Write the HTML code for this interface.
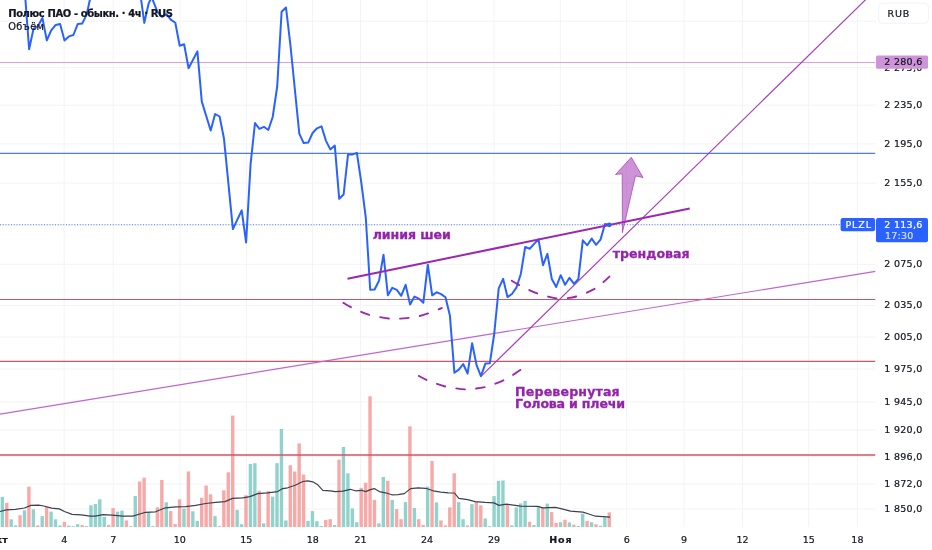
<!DOCTYPE html>
<html lang="ru"><head><meta charset="utf-8"><title>Полюс ПАО - обыкн. · 4ч · RUS</title>
<style>
html,body{margin:0;padding:0;background:#fff;}
body{width:932px;height:550px;overflow:hidden;}
svg{display:block;}
text{font-family:"DejaVu Sans","Liberation Sans",sans-serif;}
.ax{font-size:9.5px;fill:#131722;stroke:#131722;stroke-width:0.22px;}
.b{font-weight:bold;}
.an{font-size:12.6px;font-weight:bold;fill:#9423ab;stroke:#9423ab;stroke-width:0.3px;}
</style></head><body>
<svg width="932" height="550" viewBox="0 0 932 550">
<rect width="932" height="550" fill="#fff"/>
<defs><clipPath id="pane"><rect x="0" y="0" width="875.5" height="527"/></clipPath></defs>

<g stroke="#f3f3f6" stroke-width="1">
<line x1="64.2" y1="0" x2="64.2" y2="527"/>
<line x1="113.2" y1="0" x2="113.2" y2="527"/>
<line x1="180.0" y1="0" x2="180.0" y2="527"/>
<line x1="246.4" y1="0" x2="246.4" y2="527"/>
<line x1="312.6" y1="0" x2="312.6" y2="527"/>
<line x1="360.5" y1="0" x2="360.5" y2="527"/>
<line x1="427.0" y1="0" x2="427.0" y2="527"/>
<line x1="494.0" y1="0" x2="494.0" y2="527"/>
<line x1="560.3" y1="0" x2="560.3" y2="527"/>
<line x1="626.7" y1="0" x2="626.7" y2="527"/>
<line x1="684.1" y1="0" x2="684.1" y2="527"/>
<line x1="742.5" y1="0" x2="742.5" y2="527"/>
<line x1="808.7" y1="0" x2="808.7" y2="527"/>
<line x1="857.4" y1="0" x2="857.4" y2="527"/>
<line x1="0" y1="21.2" x2="875.5" y2="21.2"/>
<line x1="0" y1="67.6" x2="875.5" y2="67.6"/>
<line x1="0" y1="105.2" x2="875.5" y2="105.2"/>
<line x1="0" y1="143.9" x2="875.5" y2="143.9"/>
<line x1="0" y1="183.1" x2="875.5" y2="183.1"/>
<line x1="0" y1="224.8" x2="875.5" y2="224.8"/>
<line x1="0" y1="264.3" x2="875.5" y2="264.3"/>
<line x1="0" y1="305.4" x2="875.5" y2="305.4"/>
<line x1="0" y1="337.0" x2="875.5" y2="337.0"/>
<line x1="0" y1="369.0" x2="875.5" y2="369.0"/>
<line x1="0" y1="402.0" x2="875.5" y2="402.0"/>
<line x1="0" y1="430.0" x2="875.5" y2="430.0"/>
<line x1="0" y1="456.7" x2="875.5" y2="456.7"/>
<line x1="0" y1="484.0" x2="875.5" y2="484.0"/>
<line x1="0" y1="509.0" x2="875.5" y2="509.0"/>
</g>
<g clip-path="url(#pane)">
<g>
<rect x="0.65" y="496.8" width="3.4" height="30.2" fill="#92d2cc"/>
<rect x="5.08" y="502.8" width="3.4" height="24.2" fill="#f7a9a7"/>
<rect x="9.51" y="519.3" width="3.4" height="7.7" fill="#92d2cc"/>
<rect x="13.94" y="525.4" width="3.4" height="1.6" fill="#92d2cc"/>
<rect x="18.37" y="515.3" width="3.4" height="11.7" fill="#f7a9a7"/>
<rect x="22.80" y="510.3" width="3.4" height="16.7" fill="#92d2cc"/>
<rect x="27.23" y="486.7" width="3.4" height="40.3" fill="#f7a9a7"/>
<rect x="31.66" y="509.3" width="3.4" height="17.7" fill="#92d2cc"/>
<rect x="36.09" y="525.4" width="3.4" height="1.6" fill="#f7a9a7"/>
<rect x="40.52" y="516.1" width="3.4" height="10.9" fill="#92d2cc"/>
<rect x="44.95" y="506.8" width="3.4" height="20.2" fill="#f7a9a7"/>
<rect x="49.38" y="511.6" width="3.4" height="15.4" fill="#92d2cc"/>
<rect x="53.81" y="519.3" width="3.4" height="7.7" fill="#92d2cc"/>
<rect x="58.24" y="525.4" width="3.4" height="1.6" fill="#92d2cc"/>
<rect x="62.67" y="521.9" width="3.4" height="5.1" fill="#f7a9a7"/>
<rect x="67.10" y="525.6" width="3.4" height="1.4" fill="#92d2cc"/>
<rect x="71.53" y="526.2" width="3.4" height="0.8" fill="#92d2cc"/>
<rect x="75.96" y="524.1" width="3.4" height="2.9" fill="#92d2cc"/>
<rect x="80.39" y="525.1" width="3.4" height="1.9" fill="#f7a9a7"/>
<rect x="84.82" y="526.1" width="3.4" height="0.9" fill="#92d2cc"/>
<rect x="89.25" y="505.3" width="3.4" height="21.7" fill="#92d2cc"/>
<rect x="93.68" y="504.0" width="3.4" height="23.0" fill="#92d2cc"/>
<rect x="98.11" y="499.3" width="3.4" height="27.7" fill="#92d2cc"/>
<rect x="102.54" y="516.8" width="3.4" height="10.2" fill="#92d2cc"/>
<rect x="106.97" y="524.9" width="3.4" height="2.1" fill="#f7a9a7"/>
<rect x="111.40" y="508.1" width="3.4" height="18.9" fill="#f7a9a7"/>
<rect x="115.83" y="511.6" width="3.4" height="15.4" fill="#92d2cc"/>
<rect x="120.26" y="510.6" width="3.4" height="16.4" fill="#92d2cc"/>
<rect x="124.69" y="520.4" width="3.4" height="6.6" fill="#f7a9a7"/>
<rect x="129.12" y="526.1" width="3.4" height="0.9" fill="#92d2cc"/>
<rect x="133.55" y="496.0" width="3.4" height="31.0" fill="#92d2cc"/>
<rect x="137.98" y="481.5" width="3.4" height="45.5" fill="#f7a9a7"/>
<rect x="142.41" y="477.7" width="3.4" height="49.3" fill="#f7a9a7"/>
<rect x="146.84" y="512.3" width="3.4" height="14.7" fill="#92d2cc"/>
<rect x="151.27" y="526.1" width="3.4" height="0.9" fill="#92d2cc"/>
<rect x="155.70" y="507.3" width="3.4" height="19.7" fill="#f7a9a7"/>
<rect x="160.13" y="480.0" width="3.4" height="47.0" fill="#f7a9a7"/>
<rect x="164.56" y="502.3" width="3.4" height="24.7" fill="#92d2cc"/>
<rect x="168.99" y="511.1" width="3.4" height="15.9" fill="#f7a9a7"/>
<rect x="173.42" y="524.1" width="3.4" height="2.9" fill="#f7a9a7"/>
<rect x="177.85" y="499.3" width="3.4" height="27.7" fill="#f7a9a7"/>
<rect x="182.28" y="508.6" width="3.4" height="18.4" fill="#92d2cc"/>
<rect x="186.71" y="471.4" width="3.4" height="55.6" fill="#f7a9a7"/>
<rect x="191.14" y="511.3" width="3.4" height="15.7" fill="#92d2cc"/>
<rect x="195.57" y="520.9" width="3.4" height="6.1" fill="#92d2cc"/>
<rect x="200.00" y="497.8" width="3.4" height="29.2" fill="#f7a9a7"/>
<rect x="204.43" y="485.5" width="3.4" height="41.5" fill="#f7a9a7"/>
<rect x="208.86" y="494.3" width="3.4" height="32.7" fill="#f7a9a7"/>
<rect x="213.29" y="516.1" width="3.4" height="10.9" fill="#92d2cc"/>
<rect x="217.72" y="526.1" width="3.4" height="0.9" fill="#f7a9a7"/>
<rect x="222.15" y="490.3" width="3.4" height="36.7" fill="#f7a9a7"/>
<rect x="226.58" y="472.3" width="3.4" height="54.7" fill="#f7a9a7"/>
<rect x="231.01" y="415.6" width="3.4" height="111.4" fill="#f7a9a7"/>
<rect x="235.44" y="509.9" width="3.4" height="17.1" fill="#92d2cc"/>
<rect x="239.87" y="524.2" width="3.4" height="2.8" fill="#92d2cc"/>
<rect x="244.30" y="495.3" width="3.4" height="31.7" fill="#f7a9a7"/>
<rect x="248.73" y="464.0" width="3.4" height="63.0" fill="#92d2cc"/>
<rect x="253.16" y="463.2" width="3.4" height="63.8" fill="#92d2cc"/>
<rect x="257.59" y="490.8" width="3.4" height="36.2" fill="#f7a9a7"/>
<rect x="262.02" y="523.4" width="3.4" height="3.6" fill="#92d2cc"/>
<rect x="266.45" y="491.1" width="3.4" height="35.9" fill="#f7a9a7"/>
<rect x="270.88" y="496.6" width="3.4" height="30.4" fill="#92d2cc"/>
<rect x="275.31" y="463.2" width="3.4" height="63.8" fill="#92d2cc"/>
<rect x="279.74" y="428.9" width="3.4" height="98.1" fill="#92d2cc"/>
<rect x="284.17" y="520.4" width="3.4" height="6.6" fill="#92d2cc"/>
<rect x="288.60" y="465.2" width="3.4" height="61.8" fill="#f7a9a7"/>
<rect x="293.03" y="471.5" width="3.4" height="55.5" fill="#f7a9a7"/>
<rect x="297.46" y="443.4" width="3.4" height="83.6" fill="#f7a9a7"/>
<rect x="301.89" y="474.5" width="3.4" height="52.5" fill="#f7a9a7"/>
<rect x="306.32" y="520.9" width="3.4" height="6.1" fill="#92d2cc"/>
<rect x="310.75" y="511.1" width="3.4" height="15.9" fill="#92d2cc"/>
<rect x="315.18" y="521.2" width="3.4" height="5.8" fill="#92d2cc"/>
<rect x="319.61" y="526.0" width="3.4" height="1.0" fill="#92d2cc"/>
<rect x="324.04" y="519.9" width="3.4" height="7.1" fill="#f7a9a7"/>
<rect x="328.47" y="519.2" width="3.4" height="7.8" fill="#f7a9a7"/>
<rect x="332.90" y="525.0" width="3.4" height="2.0" fill="#92d2cc"/>
<rect x="337.33" y="459.7" width="3.4" height="67.3" fill="#f7a9a7"/>
<rect x="341.76" y="446.9" width="3.4" height="80.1" fill="#92d2cc"/>
<rect x="346.19" y="473.3" width="3.4" height="53.7" fill="#92d2cc"/>
<rect x="350.62" y="508.4" width="3.4" height="18.6" fill="#92d2cc"/>
<rect x="355.05" y="522.2" width="3.4" height="4.8" fill="#92d2cc"/>
<rect x="359.48" y="487.8" width="3.4" height="39.2" fill="#f7a9a7"/>
<rect x="363.91" y="482.8" width="3.4" height="44.2" fill="#f7a9a7"/>
<rect x="368.34" y="396.3" width="3.4" height="130.7" fill="#f7a9a7"/>
<rect x="372.77" y="499.9" width="3.4" height="27.1" fill="#f7a9a7"/>
<rect x="377.20" y="523.4" width="3.4" height="3.6" fill="#92d2cc"/>
<rect x="381.63" y="477.0" width="3.4" height="50.0" fill="#92d2cc"/>
<rect x="386.06" y="480.8" width="3.4" height="46.2" fill="#f7a9a7"/>
<rect x="390.49" y="499.9" width="3.4" height="27.1" fill="#92d2cc"/>
<rect x="394.92" y="509.1" width="3.4" height="17.9" fill="#f7a9a7"/>
<rect x="399.35" y="519.2" width="3.4" height="7.8" fill="#f7a9a7"/>
<rect x="403.78" y="502.1" width="3.4" height="24.9" fill="#92d2cc"/>
<rect x="408.21" y="426.4" width="3.4" height="100.6" fill="#f7a9a7"/>
<rect x="412.64" y="507.9" width="3.4" height="19.1" fill="#92d2cc"/>
<rect x="417.07" y="519.2" width="3.4" height="7.8" fill="#f7a9a7"/>
<rect x="421.50" y="525.0" width="3.4" height="2.0" fill="#f7a9a7"/>
<rect x="425.93" y="486.6" width="3.4" height="40.4" fill="#92d2cc"/>
<rect x="430.36" y="461.0" width="3.4" height="66.0" fill="#f7a9a7"/>
<rect x="434.79" y="502.4" width="3.4" height="24.6" fill="#92d2cc"/>
<rect x="439.22" y="520.4" width="3.4" height="6.6" fill="#f7a9a7"/>
<rect x="443.65" y="525.4" width="3.4" height="1.6" fill="#f7a9a7"/>
<rect x="448.08" y="507.4" width="3.4" height="19.6" fill="#f7a9a7"/>
<rect x="452.51" y="473.3" width="3.4" height="53.7" fill="#f7a9a7"/>
<rect x="456.94" y="502.1" width="3.4" height="24.9" fill="#92d2cc"/>
<rect x="461.37" y="519.2" width="3.4" height="7.8" fill="#92d2cc"/>
<rect x="465.80" y="525.4" width="3.4" height="1.6" fill="#f7a9a7"/>
<rect x="470.23" y="504.1" width="3.4" height="22.9" fill="#92d2cc"/>
<rect x="474.66" y="501.6" width="3.4" height="25.4" fill="#f7a9a7"/>
<rect x="479.09" y="505.4" width="3.4" height="21.6" fill="#f7a9a7"/>
<rect x="483.52" y="518.4" width="3.4" height="8.6" fill="#92d2cc"/>
<rect x="487.95" y="526.2" width="3.4" height="0.8" fill="#92d2cc"/>
<rect x="492.38" y="496.1" width="3.4" height="30.9" fill="#92d2cc"/>
<rect x="496.81" y="480.8" width="3.4" height="46.2" fill="#92d2cc"/>
<rect x="501.24" y="480.5" width="3.4" height="46.5" fill="#92d2cc"/>
<rect x="505.67" y="504.9" width="3.4" height="22.1" fill="#f7a9a7"/>
<rect x="510.10" y="525.4" width="3.4" height="1.6" fill="#92d2cc"/>
<rect x="514.53" y="507.4" width="3.4" height="19.6" fill="#92d2cc"/>
<rect x="518.96" y="503.4" width="3.4" height="23.6" fill="#92d2cc"/>
<rect x="523.39" y="500.9" width="3.4" height="26.1" fill="#92d2cc"/>
<rect x="527.82" y="521.7" width="3.4" height="5.3" fill="#f7a9a7"/>
<rect x="532.25" y="525.0" width="3.4" height="2.0" fill="#92d2cc"/>
<rect x="536.68" y="506.1" width="3.4" height="20.9" fill="#92d2cc"/>
<rect x="541.11" y="507.9" width="3.4" height="19.1" fill="#f7a9a7"/>
<rect x="545.54" y="503.6" width="3.4" height="23.4" fill="#92d2cc"/>
<rect x="549.97" y="512.1" width="3.4" height="14.9" fill="#f7a9a7"/>
<rect x="554.40" y="522.9" width="3.4" height="4.1" fill="#f7a9a7"/>
<rect x="558.83" y="522.2" width="3.4" height="4.8" fill="#92d2cc"/>
<rect x="563.26" y="519.7" width="3.4" height="7.3" fill="#f7a9a7"/>
<rect x="567.69" y="522.4" width="3.4" height="4.6" fill="#92d2cc"/>
<rect x="572.12" y="524.7" width="3.4" height="2.3" fill="#f7a9a7"/>
<rect x="576.55" y="526.0" width="3.4" height="1.0" fill="#92d2cc"/>
<rect x="580.98" y="513.7" width="3.4" height="13.3" fill="#92d2cc"/>
<rect x="585.41" y="520.9" width="3.4" height="6.1" fill="#f7a9a7"/>
<rect x="589.84" y="522.2" width="3.4" height="4.8" fill="#92d2cc"/>
<rect x="594.27" y="524.2" width="3.4" height="2.8" fill="#f7a9a7"/>
<rect x="598.70" y="525.7" width="3.4" height="1.3" fill="#92d2cc"/>
<rect x="603.13" y="517.4" width="3.4" height="9.6" fill="#92d2cc"/>
<rect x="607.56" y="512.4" width="3.4" height="14.6" fill="#f7a9a7"/>
</g>
<polyline fill="none" stroke="#3d414e" stroke-width="1.2" stroke-linejoin="round" points="0.0,511.5 6.4,509.9 15.4,509.3 24.5,508.0 30.9,505.4 38.6,505.1 43.8,506.0 51.5,508.2 59.2,508.9 64.4,511.5 72.1,514.4 81.1,514.8 90.1,516.1 95.3,516.1 103.0,514.7 112.0,515.1 122.9,516.2 132.9,516.1 145.5,512.3 155.5,511.8 165.5,507.8 175.6,506.8 185.6,506.6 195.6,505.3 205.7,503.5 215.7,502.3 225.0,501.6 232.5,498.4 242.6,497.9 250.0,496.6 257.6,493.6 267.6,492.8 277.7,491.6 282.7,488.6 287.7,487.8 295.2,485.3 302.8,481.5 307.8,480.8 312.8,481.8 317.8,484.8 322.8,490.3 330.3,490.8 335.4,491.6 342.9,491.1 350.4,489.3 355.4,490.8 361.7,490.3 365.5,491.6 370.5,489.6 374.2,488.6 379.3,491.6 385.5,492.8 391.8,494.8 398.1,494.6 404.3,493.6 410.6,488.6 418.1,487.8 425.7,488.3 433.2,490.8 440.7,492.1 448.2,492.8 454.5,493.0 458.8,498.4 467.6,499.6 475.1,501.6 485.1,502.4 493.9,502.9 498.9,505.4 506.5,504.1 515.2,505.4 520.3,506.1 537.8,506.4 542.8,507.9 555.4,507.4 562.9,509.1 570.4,511.1 583.0,512.1 588.0,513.7 595.5,516.2 603.0,516.7 610.0,517.2"/>
<line x1="0" y1="62.4" x2="875.5" y2="62.4" stroke="#d9a0e0" stroke-width="1.05"/>
<line x1="0" y1="153.3" x2="875.5" y2="153.3" stroke="#4a7bff" stroke-width="1.3"/>
<line x1="0" y1="299.45" x2="875.5" y2="299.45" stroke="#cf5562" stroke-width="1.05"/>
<line x1="0" y1="361.35" x2="875.5" y2="361.35" stroke="#cf5562" stroke-width="1.05"/>
<line x1="0" y1="455.00" x2="875.5" y2="455.00" stroke="#cf5562" stroke-width="1.35"/>
<line x1="0" y1="224.8" x2="875.5" y2="224.8" stroke="#2962ff" stroke-opacity="0.85" stroke-width="1.05" stroke-dasharray="1 1.75"/>
<line x1="0" y1="414.1" x2="875.5" y2="271.3" stroke="#c264d0" stroke-width="1.2"/>
<line x1="481.2" y1="376.1" x2="865.9" y2="-0.6" stroke="#a83cba" stroke-width="1.15"/>
<polyline fill="none" stroke="#2962ff" stroke-width="2" stroke-linejoin="round" stroke-linecap="round" points="25.3,-2.0 29.1,49.3 33.5,28.9 37.9,26.3 42.4,18.0 46.8,40.4 51.2,30.4 55.7,24.9 60.1,23.9 64.5,40.5 68.9,36.4 73.4,35.0 77.8,23.9 82.2,23.6 86.7,14.4 90.3,-2.0"/>
<polyline fill="none" stroke="#2962ff" stroke-width="2" stroke-linejoin="round" stroke-linecap="round" points="140.9,-2.0 144.3,22.9 148.7,3.3 151.6,-3.0 157.4,11.8 162.0,16.9 166.4,14.2 170.8,19.6 175.3,22.7 179.7,45.8 184.1,44.3 188.6,68.2 197.4,51.4 201.8,101.6 210.7,130.5 215.1,114.0 219.6,116.5 224.0,138.8 232.9,229.1 241.7,210.3 246.1,242.4 250.6,163.9 255.0,123.0 259.4,128.8 263.9,126.8 268.3,130.0 272.7,117.0 277.2,86.5 281.6,11.8 286.0,7.5 290.4,45.0 299.3,133.6 303.7,143.1 308.2,142.6 312.6,133.0 317.0,128.3 321.5,126.3 325.9,140.6 330.3,149.4 334.8,145.6 339.2,198.8 343.6,194.5 348.0,154.6 352.5,154.4 356.9,152.9 361.3,182.7 365.8,217.7 370.2,289.8 374.6,289.5 379.0,280.8 383.5,254.7 387.9,295.3 392.3,287.8 396.8,289.8 401.2,295.8 405.6,284.8 410.1,304.6 414.5,296.6 418.9,298.6 423.3,302.8 427.8,264.7 432.2,295.3 436.6,292.3 441.1,294.1 445.5,297.3 449.9,315.6 454.4,372.8 458.8,369.6 463.2,364.0 467.6,373.6 472.1,343.2 476.5,364.8 480.9,376.1 485.4,363.6 489.8,363.3 494.2,334.0 498.7,288.3 503.1,278.8 507.5,297.1 511.9,294.0 516.4,287.7 520.8,274.0 525.2,246.9 529.7,248.7 534.1,243.9 538.5,239.4 543.0,265.2 547.4,253.9 551.8,279.0 556.2,287.0 560.7,275.2 565.1,284.8 569.5,277.8 574.0,283.8 578.4,278.8 582.8,240.3 587.3,245.3 591.7,238.6 596.1,244.8 600.5,239.6 605.0,224.0 609.4,224.8"/>
<line x1="347.5" y1="278.8" x2="689.7" y2="208.4" stroke="#9c27b0" stroke-width="2"/>
<circle cx="609.3" cy="224.8" r="2.4" fill="#2962ff"/>
<path d="M343.4,302.9 C344.8,303.7 348.9,306.2 351.7,307.6 C354.5,309.0 357.3,310.2 360.4,311.5 C363.4,312.8 366.8,314.2 370.0,315.1 C373.2,316.0 376.0,316.4 379.4,317.0 C382.8,317.6 386.8,318.4 390.1,318.7 C393.4,319.0 396.1,318.9 399.4,318.7 C402.7,318.5 406.6,318.1 409.9,317.7 C413.2,317.3 416.0,316.9 419.3,316.1 C422.6,315.3 426.5,314.0 429.6,312.9 C432.7,311.8 435.9,310.4 438.0,309.6 C440.1,308.8 441.2,308.3 441.9,308.0" fill="none" stroke="#9c27b0" stroke-width="1.9" stroke-linecap="round" stroke-dasharray="8.6 11.3"/>
<path d="M418.8,375.9 C420.2,376.6 424.2,378.9 427.1,380.2 C430.0,381.5 432.9,382.5 436.1,383.6 C439.3,384.7 442.8,385.9 446.1,386.7 C449.4,387.5 452.4,387.9 455.7,388.3 C459.0,388.8 462.7,389.3 466.0,389.4 C469.3,389.4 472.4,389.0 475.7,388.6 C479.0,388.2 482.8,387.6 486.0,386.8 C489.2,386.0 491.9,385.0 495.0,383.8 C498.1,382.6 501.7,381.1 504.6,379.7 C507.5,378.3 509.9,376.9 512.6,375.2 C515.3,373.5 519.4,370.6 520.7,369.7" fill="none" stroke="#9c27b0" stroke-width="1.9" stroke-linecap="round" stroke-dasharray="8.6 11.3"/>
<path d="M511.7,280.8 C513.0,281.6 516.9,283.9 519.6,285.3 C522.3,286.8 525.1,288.1 528.1,289.5 C531.1,290.9 534.5,292.5 537.6,293.6 C540.8,294.7 543.7,295.5 547.0,296.3 C550.3,297.1 554.0,298.2 557.3,298.5 C560.6,298.8 563.7,298.6 567.0,298.2 C570.3,297.8 573.8,297.2 577.0,296.3 C580.2,295.4 583.3,294.2 586.3,292.9 C589.3,291.6 592.3,290.2 595.0,288.6 C597.7,287.0 600.0,285.0 602.4,283.0 C604.8,281.0 608.2,277.7 609.4,276.6" fill="none" stroke="#9c27b0" stroke-width="1.9" stroke-linecap="round" stroke-dasharray="8.6 11.3"/>
<path d="M622.4,232.7 L622.2,173.8 L615.5,174.5 L631.3,157.3 L643.1,177.6 L635.5,175.9 Z" fill="#9c27b0" fill-opacity="0.5" stroke="#9c27b0" stroke-opacity="0.6" stroke-width="1" stroke-linejoin="round"/>
</g>
<text class="an" x="372.7" y="239.0" textLength="78.2" lengthAdjust="spacing">линия шеи</text>
<text class="an" x="612.7" y="258.0" textLength="77.0" lengthAdjust="spacing">трендовая</text>
<text class="an" x="515.1" y="396.0" textLength="104.6" lengthAdjust="spacing">Перевернутая</text>
<text class="an" x="515.1" y="408.4" textLength="109.9" lengthAdjust="spacing">Голова и плечи</text>
<text class="ax b" x="8.2" y="16.5" textLength="164.8" lengthAdjust="spacing" style="font-size:10px">Полюс ПАО - обыкн. · 4ч · RUS</text>
<text class="ax" x="8.2" y="30.0" textLength="35.8" lengthAdjust="spacing" style="font-size:9.8px">Объём</text>
<text class="ax" x="884.3" y="108.1" textLength="38.0" lengthAdjust="spacing">2 235,0</text>
<text class="ax" x="884.3" y="146.8" textLength="38.0" lengthAdjust="spacing">2 195,0</text>
<text class="ax" x="884.3" y="186.0" textLength="38.0" lengthAdjust="spacing">2 155,0</text>
<text class="ax" x="884.3" y="267.2" textLength="38.0" lengthAdjust="spacing">2 075,0</text>
<text class="ax" x="884.3" y="308.3" textLength="38.0" lengthAdjust="spacing">2 035,0</text>
<text class="ax" x="884.3" y="339.9" textLength="38.0" lengthAdjust="spacing">2 005,0</text>
<text class="ax" x="884.3" y="371.9" textLength="38.0" lengthAdjust="spacing">1 975,0</text>
<text class="ax" x="884.3" y="404.9" textLength="38.0" lengthAdjust="spacing">1 945,0</text>
<text class="ax" x="884.3" y="432.9" textLength="38.0" lengthAdjust="spacing">1 920,0</text>
<text class="ax" x="884.3" y="459.6" textLength="38.0" lengthAdjust="spacing">1 896,0</text>
<text class="ax" x="884.3" y="486.9" textLength="38.0" lengthAdjust="spacing">1 872,0</text>
<text class="ax" x="884.3" y="511.9" textLength="38.0" lengthAdjust="spacing">1 850,0</text>
<text class="ax" x="884.3" y="70.6" textLength="38.0" lengthAdjust="spacing">2 275,0</text>
<rect x="876" y="55.6" width="52" height="13.2" rx="1.5" fill="#ce93d8"/>
<text class="ax" x="884.3" y="65.0" textLength="38.0" lengthAdjust="spacing">2 280,6</text>
<rect x="878.6" y="3.1" width="49.8" height="20.2" rx="4" fill="#fff" stroke="#f0f3fa" stroke-width="1"/>
<text class="ax" x="887.4" y="16.8" textLength="22.0" lengthAdjust="spacing">RUB</text>
<rect x="840.6" y="218" width="34.5" height="13.3" rx="2" fill="#2962ff"/>
<text class="ax" x="845.4" y="227.9" textLength="25.6" lengthAdjust="spacing" style="fill:#fff;stroke:#fff">PLZL</text>
<rect x="876" y="218" width="52" height="24.2" rx="2" fill="#2962ff"/>
<text class="ax" x="884.3" y="227.7" textLength="38.0" lengthAdjust="spacing" style="fill:#fff;stroke:#fff">2 113,6</text>
<text class="ax" x="885.1" y="238.6" textLength="28.2" lengthAdjust="spacing" style="fill:#d4dfff;stroke:#d4dfff">17:30</text>
<text class="ax b" x="-12.4" y="542.9">Окт</text>
<text class="ax" x="64.2" y="542.9" text-anchor="middle">4</text>
<text class="ax" x="113.2" y="542.9" text-anchor="middle">7</text>
<text class="ax" x="179.8" y="542.9" text-anchor="middle">10</text>
<text class="ax" x="246.2" y="542.9" text-anchor="middle">15</text>
<text class="ax" x="312.8" y="542.9" text-anchor="middle">18</text>
<text class="ax" x="360.5" y="542.9" text-anchor="middle">21</text>
<text class="ax" x="427.1" y="542.9" text-anchor="middle">24</text>
<text class="ax" x="494.1" y="542.9" text-anchor="middle">29</text>
<text class="ax b" x="560.4" y="542.9" text-anchor="middle" textLength="22.3">Ноя</text>
<text class="ax" x="626.7" y="542.9" text-anchor="middle">6</text>
<text class="ax" x="684.1" y="542.9" text-anchor="middle">9</text>
<text class="ax" x="742.5" y="542.9" text-anchor="middle">12</text>
<text class="ax" x="808.7" y="542.9" text-anchor="middle">15</text>
<text class="ax" x="857.4" y="542.9" text-anchor="middle">18</text>
</svg></body></html>
